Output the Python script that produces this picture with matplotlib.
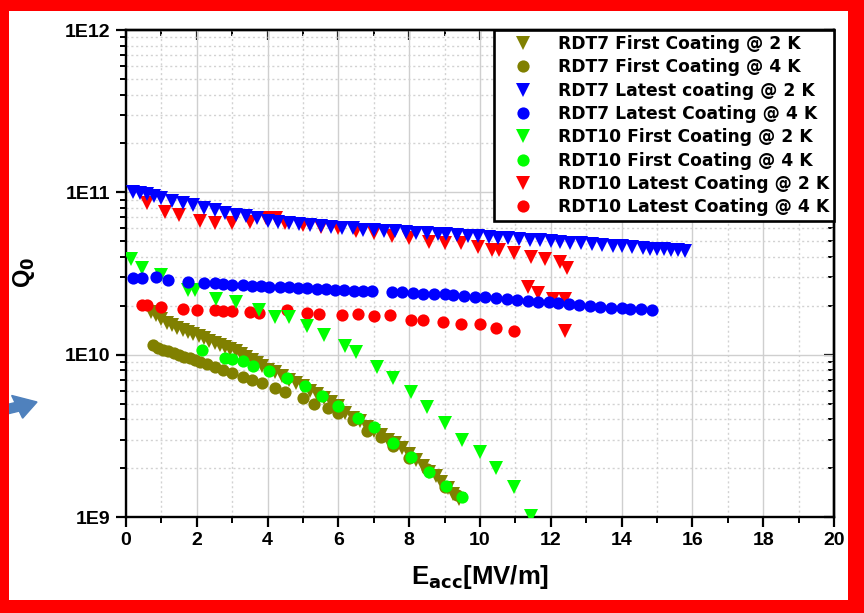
import matplotlib
matplotlib.use("Agg")
import matplotlib.pyplot as plt
from matplotlib.patches import Rectangle, FancyArrow
from matplotlib.lines import Line2D
from matplotlib.ticker import LogLocator, MultipleLocator, FixedLocator, NullFormatter

plt.rcParams['font.family'] = ['Liberation Sans', 'DejaVu Sans']
plt.rcParams['font.weight'] = 'bold'
plt.rcParams['mathtext.default'] = 'bf'

# ---------------- data ----------------
# RDT7 First Coating @ 2 K  (Q in units of 1e9)
rdt7_first_2k_E = [0.70, 0.85, 1.00, 1.15, 1.30, 1.45, 1.60, 1.75, 1.90, 2.05, 2.20, 2.35, 2.50,
                   2.65, 2.80, 2.95, 3.10, 3.25, 3.40, 3.55, 3.70, 3.85, 4.00, 4.20, 4.40, 4.60,
                   4.80, 5.00, 5.20, 5.40, 5.60, 5.80, 6.00, 6.20, 6.40, 6.60, 6.80, 7.00, 7.20,
                   7.40, 7.60, 7.80, 8.00, 8.20, 8.40, 8.55, 8.75, 8.90, 9.10, 9.25, 9.40]
rdt7_first_2k_Q = [18.3, 17.5, 16.5, 15.7, 15.2, 14.7, 14.2, 13.8, 13.4, 13.0, 12.6, 12.2, 11.8,
                   11.5, 11.1, 10.8, 10.5, 10.1, 9.7, 9.3, 8.9, 8.5, 8.1, 7.8, 7.4, 7.0,
                   6.7, 6.4, 6.0, 5.7, 5.4, 5.1, 4.8, 4.4, 4.1, 3.9, 3.6, 3.4, 3.2,
                   3.0, 2.85, 2.65, 2.45, 2.25, 2.05, 1.9, 1.8, 1.65, 1.5, 1.38, 1.3]

# RDT7 First Coating @ 4 K  (1e9)
rdt7_first_4k_E = [0.75, 0.90, 1.05, 1.20, 1.35, 1.50, 1.65, 1.80, 1.95, 2.10, 2.30, 2.50, 2.75,
                   3.00, 3.30, 3.55, 3.85, 4.20, 4.50, 5.00, 5.30, 5.70, 6.00, 6.40, 6.80, 7.20,
                   7.55, 8.00, 8.50, 9.00, 9.35]
rdt7_first_4k_Q = [11.5, 11.0, 10.7, 10.5, 10.2, 9.9, 9.7, 9.5, 9.3, 9.0, 8.7, 8.4, 8.0,
                   7.7, 7.3, 7.0, 6.7, 6.2, 5.9, 5.4, 5.0, 4.7, 4.35, 3.95, 3.4, 3.1,
                   2.75, 2.3, 1.97, 1.53, 1.37]

# RDT7 Latest coating @ 2 K  (1e10)
rdt7_latest_2k_E = [0.20, 0.40, 0.60, 0.80, 1.00, 1.30, 1.60, 1.90, 2.20, 2.50, 2.80, 3.10, 3.40,
                    3.70, 4.00, 4.30, 4.60, 4.90, 5.20, 5.50, 5.80, 6.10, 6.40, 6.70, 7.00, 7.30,
                    7.60, 7.90, 8.20, 8.50, 8.80, 9.05, 9.35, 9.65, 9.95, 10.25, 10.50, 10.80,
                    11.10, 11.40, 11.70, 12.00, 12.25, 12.55, 12.85, 13.15, 13.45, 13.75, 14.00,
                    14.30, 14.60, 14.80, 15.00, 15.20, 15.40, 15.60, 15.80]
rdt7_latest_2k_Q = [10.0, 9.9, 9.7, 9.5, 9.2, 8.9, 8.6, 8.3, 8.0, 7.8, 7.5, 7.3, 7.1,
                    6.9, 6.7, 6.6, 6.5, 6.4, 6.3, 6.2, 6.1, 6.0, 6.0, 5.9, 5.85, 5.8,
                    5.75, 5.7, 5.65, 5.6, 5.55, 5.5, 5.45, 5.4, 5.35, 5.3, 5.25, 5.2,
                    5.15, 5.1, 5.05, 5.0, 4.95, 4.9, 4.85, 4.8, 4.75, 4.7, 4.65,
                    4.6, 4.55, 4.5, 4.5, 4.45, 4.4, 4.4, 4.35]

# RDT7 Latest Coating @ 4 K  (1e10)
rdt7_latest_4k_E = [0.20, 0.45, 0.85, 1.20, 1.75, 2.20, 2.50, 2.75, 3.00, 3.30, 3.55, 3.80, 4.05,
                    4.35, 4.60, 4.85, 5.10, 5.40, 5.65, 5.90, 6.15, 6.45, 6.70, 6.95, 7.50, 7.80,
                    8.10, 8.40, 8.70, 9.00, 9.25, 9.55, 9.85, 10.15, 10.45, 10.75, 11.05, 11.35,
                    11.65, 11.95, 12.20, 12.50, 12.80, 13.10, 13.40, 13.70, 14.00, 14.25, 14.55,
                    14.85]
rdt7_latest_4k_Q = [2.97, 2.97, 3.0, 2.9, 2.8, 2.75, 2.75, 2.72, 2.7, 2.68, 2.66, 2.64, 2.62,
                    2.6, 2.6, 2.58, 2.56, 2.55, 2.53, 2.52, 2.5, 2.48, 2.47, 2.45, 2.43, 2.42,
                    2.4, 2.38, 2.36, 2.35, 2.32, 2.3, 2.28, 2.26, 2.23, 2.2, 2.17, 2.15,
                    2.12, 2.1, 2.07, 2.05, 2.02, 2.0, 1.98, 1.95, 1.93, 1.92, 1.9, 1.88]

# RDT10 First Coating @ 2 K  (1e9)
rdt10_first_2k_E = [0.15, 0.45, 1.00, 1.75, 1.95, 2.55, 3.10, 3.75, 4.20, 4.60, 5.10, 5.60, 6.20,
                    6.50, 7.10, 7.55, 8.05, 8.50, 9.00, 9.50, 10.00, 10.45, 10.95, 11.45]
rdt10_first_2k_Q = [39, 34, 31, 25, 25, 22, 21, 18.8, 17, 17, 15, 13.2, 11.3,
                    10.4, 8.4, 7.2, 5.9, 4.75, 3.8, 3.0, 2.5, 2.0, 1.53, 1.02]

# RDT10 First Coating @ 4 K  (1e9)
rdt10_first_4k_E = [2.15, 2.80, 3.00, 3.30, 3.60, 4.05, 4.55, 5.05, 5.55, 6.00, 6.55, 7.00,
                    7.55, 8.05, 8.55, 9.05, 9.50]
rdt10_first_4k_Q = [10.7, 9.5, 9.4, 9.1, 8.5, 7.9, 7.2, 6.4, 5.6, 4.8, 4.1, 3.6,
                    2.86, 2.35, 1.9, 1.55, 1.33]

# RDT10 Latest Coating @ 2 K  (1e10)
rdt10_latest_2k_E = [0.60, 1.10, 1.50, 2.10, 2.50, 3.00, 3.50, 3.95, 4.25, 4.50, 5.00, 5.50, 6.00,
                     6.50, 7.00, 7.50, 8.00, 8.55, 9.00, 9.45, 9.95, 10.35, 10.55, 10.95, 11.35,
                     11.45, 11.65, 11.85, 12.05, 12.25, 12.45, 12.40, 12.40]
rdt10_latest_2k_Q = [8.6, 7.6, 7.2, 6.7, 6.5, 6.5, 6.6, 6.9, 6.9, 6.5, 6.3, 6.1, 6.0,
                     5.8, 5.6, 5.4, 5.2, 4.95, 4.9, 4.85, 4.6, 4.4, 4.4, 4.2, 2.6,
                     4.0, 2.4, 3.9, 2.2, 3.7, 3.4, 2.2, 1.4]

# RDT10 Latest Coating @ 4 K  (1e10)
rdt10_latest_4k_E = [0.45, 0.60, 1.00, 1.60, 2.00, 2.50, 2.75, 3.00, 3.50, 3.75, 4.55, 5.10, 5.45,
                     6.10, 6.55, 7.00, 7.45, 8.05, 8.40, 8.95, 9.45, 10.00, 10.45, 10.95]
rdt10_latest_4k_Q = [2.02, 2.02, 1.97, 1.9, 1.88, 1.88, 1.86, 1.86, 1.84, 1.8, 1.88, 1.81, 1.77,
                     1.75, 1.77, 1.73, 1.75, 1.64, 1.64, 1.6, 1.55, 1.55, 1.47, 1.4]

labels = ["RDT7 First Coating @ 2 K", "RDT7 First Coating @ 4 K",
          "RDT7 Latest coating @ 2 K", "RDT7 Latest Coating @ 4 K",
          "RDT10 First Coating @ 2 K", "RDT10 First Coating @ 4 K",
          "RDT10 Latest Coating @ 2 K", "RDT10 Latest Coating @ 4 K"]
x_ticks = [0, 2, 4, 6, 8, 10, 12, 14, 16, 18, 20]
y_ticks = [1e9, 1e10, 1e11, 1e12]
y_ticklabels = ["1E9", "1E10", "1E11", "1E12"]

OLIVE = "#808000"
BLUE = "#0000FF"
GREEN = "#00FF00"
RED = "#FF0000"

# ---------------- figure ----------------
W, H = 864, 613
fig = plt.figure(figsize=(W / 100, H / 100), dpi=100)
ax = fig.add_axes([126 / W, 1 - 517 / H, (834 - 126) / W, (517 - 30) / H])

TS = 9.5   # triangle size
CS = 8.8   # circle size

def s(vals, scale):
    return [v * scale for v in vals]

ax.plot(rdt7_first_4k_E, s(rdt7_first_4k_Q, 1e9), 'o', color=OLIVE, ms=CS, mew=0, zorder=3)
ax.plot(rdt7_first_2k_E, s(rdt7_first_2k_Q, 1e9), 'v', color=OLIVE, ms=TS, mew=0, zorder=3)
ax.plot(rdt10_latest_4k_E, s(rdt10_latest_4k_Q, 1e10), 'o', color=RED, ms=CS, mew=0, zorder=3)
ax.plot(rdt10_latest_2k_E, s(rdt10_latest_2k_Q, 1e10), 'v', color=RED, ms=TS, mew=0, zorder=3)
ax.plot(rdt10_first_4k_E, s(rdt10_first_4k_Q, 1e9), 'o', color=GREEN, ms=CS, mew=0, zorder=3)
ax.plot(rdt10_first_2k_E, s(rdt10_first_2k_Q, 1e9), 'v', color=GREEN, ms=TS, mew=0, zorder=3)
ax.plot(rdt7_latest_4k_E, s(rdt7_latest_4k_Q, 1e10), 'o', color=BLUE, ms=CS, mew=0, zorder=3)
ax.plot(rdt7_latest_2k_E, s(rdt7_latest_2k_Q, 1e10), 'v', color=BLUE, ms=TS, mew=0, zorder=3)

ax.set_yscale('log')
ax.set_xlim(0, 20)
ax.set_ylim(1e9, 1e12)

ax.xaxis.set_major_locator(FixedLocator(x_ticks))
ax.xaxis.set_minor_locator(MultipleLocator(1))
ax.set_xticklabels([str(t) for t in x_ticks])
ax.yaxis.set_major_locator(FixedLocator(y_ticks))
ax.yaxis.set_minor_locator(LogLocator(base=10, subs=range(2, 10), numticks=20))
ax.yaxis.set_minor_formatter(NullFormatter())
ax.set_yticklabels(y_ticklabels)

ax.grid(True, which='major', color='#cfcfcf', lw=1.0, ls='-', zorder=0)
ax.grid(True, which='minor', color='#d2d2d2', lw=1.0, ls=(0, (1.5, 2)), zorder=0)
ax.set_axisbelow(True)

for sp in ax.spines.values():
    sp.set_linewidth(1.7)
ax.tick_params(which='major', direction='out', length=7, width=1.6, labelsize=14, pad=4)
ax.tick_params(which='minor', direction='out', length=4, width=1.4)
for lab in ax.get_xticklabels() + ax.get_yticklabels():
    lab.set_fontweight('bold')

secx = ax.secondary_xaxis('top')
secx.xaxis.set_major_locator(FixedLocator(x_ticks))
secx.xaxis.set_minor_locator(MultipleLocator(1))
secx.tick_params(which='major', direction='in', length=7, width=1.6, labeltop=False)
secx.tick_params(which='minor', direction='in', length=4, width=1.4)
secx.spines['top'].set_linewidth(1.7)

secy = ax.secondary_yaxis('right')
secy.yaxis.set_major_locator(FixedLocator(y_ticks))
secy.yaxis.set_minor_locator(LogLocator(base=10, subs=range(2, 10), numticks=20))
secy.yaxis.set_minor_formatter(NullFormatter())
secy.tick_params(which='major', direction='in', length=7, width=1.6, labelright=False)
secy.tick_params(which='minor', direction='in', length=4, width=1.4)
secy.spines['right'].set_linewidth(1.7)

ax.set_xlabel(r"E$_{\mathbf{acc}}$[MV/m]", fontsize=18.5, fontweight='bold', labelpad=10)
fig.text(24 / W, 1 - 272 / H, r"Q$_{\mathbf{0}}$", rotation=90, fontsize=17,
         fontweight='bold', ha='center', va='center')

# legend
handles = [
    Line2D([], [], ls='none', marker='v', color=OLIVE, ms=TS, mew=0),
    Line2D([], [], ls='none', marker='o', color=OLIVE, ms=CS, mew=0),
    Line2D([], [], ls='none', marker='v', color=BLUE, ms=TS, mew=0),
    Line2D([], [], ls='none', marker='o', color=BLUE, ms=CS, mew=0),
    Line2D([], [], ls='none', marker='v', color=GREEN, ms=TS, mew=0),
    Line2D([], [], ls='none', marker='o', color=GREEN, ms=CS, mew=0),
    Line2D([], [], ls='none', marker='v', color=RED, ms=TS, mew=0),
    Line2D([], [], ls='none', marker='o', color=RED, ms=CS, mew=0),
]
leg = ax.legend(handles, labels, loc='upper right', bbox_to_anchor=(1.0, 1.0),
                borderaxespad=0, frameon=True, fancybox=False, framealpha=1,
                edgecolor='black',
                prop={'family': 'DejaVu Sans', 'weight': 'bold', 'size': 12.3},
                labelspacing=0.31, handletextpad=0.55, handlelength=2.9,
                borderpad=0.3)
leg.get_frame().set_linewidth(1.9)
leg.set_zorder(5)

# blue arrow on the left
arrow = FancyArrow(0 / W, 1 - 411 / H, 37 / W, 9 / H, width=9 / H, head_width=24 / H,
                   head_length=21 / W, length_includes_head=True,
                   color='#4F81BD', transform=fig.transFigure)
fig.patches.append(arrow)

# red frame
for (x0, y0, w, h) in [(0, 0, 9, H), (0, 0, W, 11), (848, 0, 16, H), (0, 600, W, 13)]:
    fig.patches.append(Rectangle((x0 / W, 1 - (y0 + h) / H), w / W, h / H,
                                 transform=fig.transFigure, color=RED, lw=0, zorder=10))

fig.savefig("out.png", dpi=100)
